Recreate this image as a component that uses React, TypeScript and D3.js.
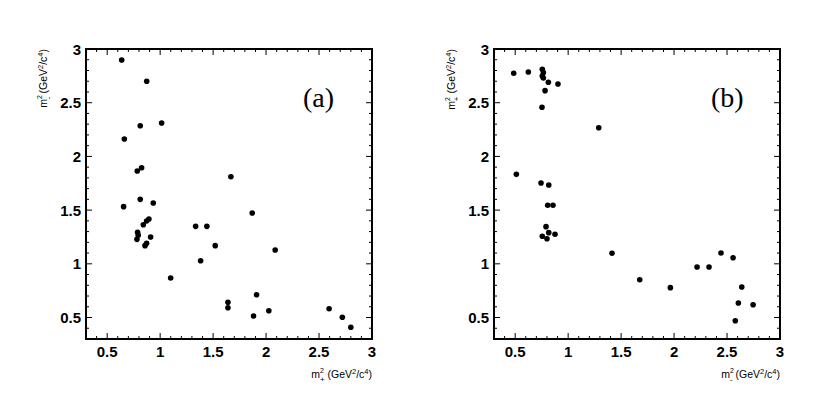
import React from "react";
import * as d3 from "d3";

// panel (a): x = m+^2, y = m-^2
const aX = [0.637, 0.873, 0.812, 1.014, 0.662, 0.784, 0.825, 1.668, 0.812, 0.935, 0.655, 1.869, 0.894,
  0.872, 0.841, 1.335, 1.441, 0.787, 0.793, 0.781, 0.91, 0.872, 0.857, 1.52, 2.086, 1.382, 1.099,
  1.91, 1.64, 1.64, 2.595, 2.026, 1.882, 2.72, 2.8];
const aY = [2.898, 2.7, 2.286, 2.311, 2.162, 1.864, 1.895, 1.811, 1.6, 1.566, 1.532, 1.473, 1.417,
  1.398, 1.364, 1.349, 1.349, 1.293, 1.265, 1.228, 1.25, 1.191, 1.169, 1.169, 1.129, 1.029, 0.868,
  0.712, 0.641, 0.591, 0.582, 0.563, 0.514, 0.502, 0.409];

// panel (b): x = m-^2, y = m+^2
const bX = [0.486, 0.624, 0.756, 0.766, 0.756, 0.766, 0.813, 0.904, 0.782, 0.753, 1.289, 0.511,
  0.744, 0.817, 0.807, 0.857, 0.791, 0.817, 0.876, 0.756, 0.8, 1.414, 1.676, 1.965, 2.217, 2.33,
  2.443, 2.557, 2.639, 2.607, 2.746, 2.578];
const bY = [2.774, 2.786, 2.811, 2.78, 2.749, 2.73, 2.69, 2.674, 2.612, 2.457, 2.267, 1.833,
  1.752, 1.734, 1.545, 1.545, 1.346, 1.29, 1.275, 1.256, 1.234, 1.098, 0.852, 0.778, 0.97, 0.97,
  1.101, 1.057, 0.784, 0.635, 0.619, 0.47];

const majorTicks = [0.5, 1, 1.5, 2, 2.5, 3];
const tickLabels = ["0.5", "1", "1.5", "2", "2.5", "3"];
const domain = [0.3, 3];

const labelFont = "'Liberation Sans', Arial, Helvetica, sans-serif";

function AxisTitle({ x, y, sub, rotate }) {
  return (
    <text
      x={x}
      y={y}
      textAnchor="end"
      fontFamily={labelFont}
      fontSize={10.5}
      transform={rotate ? `rotate(-90 ${x} ${y})` : undefined}
    >
      m
      <tspan dy={-5} fontSize={7}>2</tspan>
      <tspan dx={-4} dy={9} fontSize={8}>{sub}</tspan>
      <tspan dy={-4}> (GeV</tspan>
      <tspan dy={-4} fontSize={7.5}>2</tspan>
      <tspan dy={4}>/c</tspan>
      <tspan dy={-4} fontSize={7.5}>4</tspan>
      <tspan dy={4}>)</tspan>
    </text>
  );
}

function Panel({ left, xs, ys, xSub, ySub, tag }) {
  const top = 49, bottom = 339;
  const right = left + 286;
  const x = d3.scaleLinear().domain(domain).range([left, right]);
  const y = d3.scaleLinear().domain(domain).range([bottom, top]);
  const minor = d3.range(4, 30).map((d) => d / 10);

  return (
    <g>
      {minor.map((t) => {
        const isMajor = Math.abs(t * 2 - Math.round(t * 2)) < 1e-6;
        const len = isMajor ? 6 : 3;
        return (
          <g key={t} stroke="#000" strokeWidth={1}>
            <line x1={x(t)} x2={x(t)} y1={bottom} y2={bottom - len} />
            <line x1={x(t)} x2={x(t)} y1={top} y2={top + len} />
            <line x1={left} x2={left + len} y1={y(t)} y2={y(t)} />
            <line x1={right} x2={right - len} y1={y(t)} y2={y(t)} />
          </g>
        );
      })}
      <rect x={left} y={top} width={right - left} height={bottom - top} fill="none" stroke="#000" strokeWidth={2} />
      {majorTicks.map((t, i) => (
        <g key={t} fontFamily={labelFont} fontWeight="bold" fontSize={15}>
          <text x={x(t)} y={357} textAnchor="middle">{tickLabels[i]}</text>
          <text x={left - 5} y={y(t) + 5.5} textAnchor="end">{tickLabels[i]}</text>
        </g>
      ))}
      {xs.map((v, i) => (
        <circle key={i} cx={x(v)} cy={y(ys[i])} r={2.8} fill="#000" />
      ))}
      <text x={right - 69} y={107} fontFamily="'Liberation Serif', 'Times New Roman', serif" fontSize={28}>
        {tag}
      </text>
      <AxisTitle x={right} y={378} sub={xSub} rotate={false} />
      <AxisTitle x={left - 39} y={top} sub={ySub} rotate={true} />
    </g>
  );
}

export default function App() {
  return (
    <svg width={830} height={419} style={{ position: "absolute", left: 0, top: 0, background: "#fff" }}>
      <rect width={830} height={419} fill="#fff" />
      <Panel left={86} xs={aX} ys={aY} xSub="+" ySub="-" tag="(a)" />
      <Panel left={494} xs={bX} ys={bY} xSub="-" ySub="+" tag="(b)" />
    </svg>
  );
}
